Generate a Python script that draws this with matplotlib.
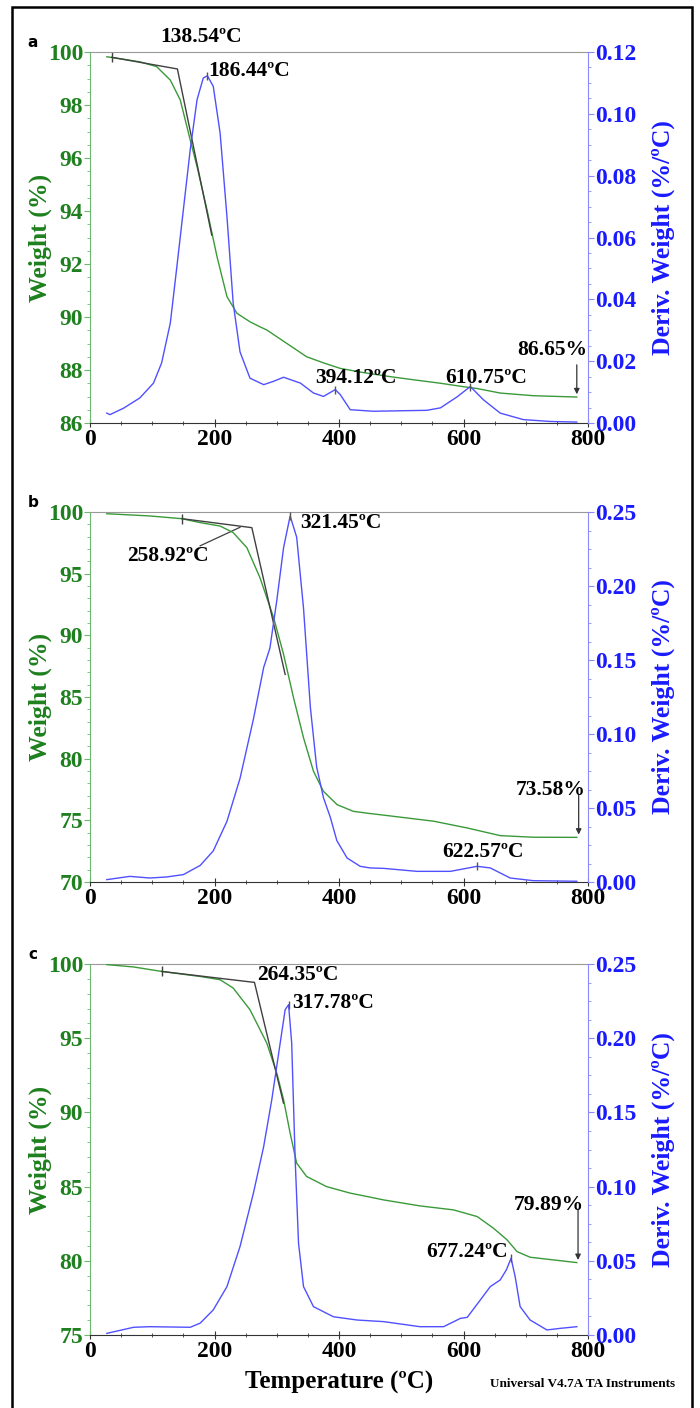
import numpy as np
import matplotlib
matplotlib.use("Agg")
import matplotlib.pyplot as plt
from matplotlib.ticker import AutoMinorLocator, FormatStrFormatter, MultipleLocator
from matplotlib.patches import Rectangle

plt.rcParams['font.family'] = ['Liberation Serif', 'DejaVu Serif']

GREEN = '#1e801e'
GREEN_LINE = '#3a9a3a'
BLUE = '#1a1aff'
BLUE_LINE = '#5050ff'
TAN = '#404040'

# ---- panel a ----
a_wt_T = [27, 50, 80, 107, 129, 145, 161, 172, 188, 204, 220, 236, 257, 273, 284, 310, 348, 375, 402, 440,
          482, 520, 563, 600, 622, 659, 712, 782]
a_wt = [99.82, 99.74, 99.63, 99.45, 98.94, 98.19, 96.68, 95.67, 94.04, 92.28, 90.77, 90.14, 89.82, 89.63,
        89.51, 89.1, 88.5, 88.27, 88.06, 87.9, 87.75, 87.63, 87.5, 87.37, 87.3, 87.13, 87.03, 86.98]
a_dtg_T = [27, 32, 54, 80, 102, 115, 129, 139, 150, 161, 172, 182, 188.6, 198, 209, 220, 230, 241, 257,
           279, 295, 311, 338, 359, 375, 394, 402, 418, 455, 541, 563, 590, 611, 632, 659, 696, 739, 782]
a_dtg = [0.0032, 0.0027, 0.0048, 0.0081, 0.0129, 0.0194, 0.0323, 0.0496, 0.069, 0.0884, 0.1046, 0.1116,
         0.1123, 0.1089, 0.0938, 0.0668, 0.0388, 0.023, 0.0145, 0.0124, 0.0135, 0.0148, 0.0129, 0.0097,
         0.0086, 0.0108, 0.0092, 0.0043, 0.0038, 0.0041, 0.0049, 0.0085, 0.0118, 0.0075, 0.0032, 0.0011,
         0.0005, 0.0003]
a_tan_T = [34.8, 140.4, 195.6]
a_tan_w = [99.8, 99.36, 93.09]
a_peaks = [188.6, 394, 611]

# ---- panel b ----
b_wt_T = [27, 96, 147, 177, 209, 230, 252, 273, 295, 311, 327, 343, 359, 375, 397, 423, 450, 472, 552,
          606, 659, 712, 782]
b_wt = [99.86, 99.68, 99.46, 99.14, 98.86, 98.33, 97.11, 94.68, 91.43, 88.45, 84.93, 81.69, 78.98, 77.35,
        76.27, 75.73, 75.55, 75.42, 74.93, 74.38, 73.76, 73.63, 73.62]
b_dtg_T = [27, 64, 96, 123, 150, 177, 198, 220, 241, 262.5, 279, 289, 300, 311, 321.5, 332, 343, 354, 364,
           375, 386, 396.5, 413, 434, 450, 472, 525, 579, 622, 643, 675, 712, 782]
b_dtg = [0.0016, 0.0038, 0.0027, 0.0034, 0.005, 0.0112, 0.021, 0.041, 0.07, 0.11, 0.145, 0.158, 0.19,
         0.226, 0.2473, 0.233, 0.185, 0.118, 0.078, 0.057, 0.0438, 0.028, 0.0162, 0.0106, 0.0095, 0.0092,
         0.0072, 0.0072, 0.0106, 0.0095, 0.0027, 0.0009, 0.0005]
b_tan_T = [147.5, 260, 313.5]
b_tan_w = [99.46, 98.73, 86.83]
b_peaks = [321.5, 622]

# ---- panel c ----
c_wt_T = [27, 70, 115, 155, 177, 209, 230, 257, 284, 300, 311, 321.5, 332, 348, 380, 418, 450, 472, 530,
          584, 622, 648, 670, 686, 707, 734, 782]
c_wt = [99.96, 99.8, 99.5, 99.28, 99.16, 98.94, 98.38, 96.92, 94.67, 92.65, 90.85, 88.6, 86.58, 85.68,
        85.0, 84.56, 84.29, 84.1, 83.7, 83.43, 82.98, 82.2, 81.41, 80.62, 80.24, 80.11, 79.88]
c_dtg_T = [27, 70, 96, 161, 177, 198, 220, 241, 262.5, 279, 292, 305.5, 313.5, 319, 324, 329.6, 335, 343,
           359, 391, 429, 472, 530, 568, 595, 606, 627, 643, 659, 669, 676.4, 683, 691, 707, 734, 756, 782]
c_dtg = [0.0011, 0.0052, 0.0056, 0.0052, 0.008, 0.0169, 0.0326, 0.0596, 0.0956, 0.127, 0.1585, 0.1967,
         0.2192, 0.2226, 0.1967, 0.118, 0.0618, 0.0326, 0.0191, 0.0123, 0.0101, 0.009, 0.0056, 0.0056,
         0.0112, 0.0119, 0.0236, 0.0326, 0.0371, 0.044, 0.0517, 0.0393, 0.0191, 0.0101, 0.0034, 0.0045,
         0.0056]
c_tan_T = [115, 264.2, 310.8]
c_tan_w = [99.5, 98.76, 90.63]
c_peaks = [319, 676.4]

fig = plt.figure(figsize=(7, 14.08), dpi=100)
fig.patches.append(Rectangle((12 / 700, -0.01), 680 / 700, 1 - 7 / 1408 + 0.01, transform=fig.transFigure,
                             fill=False, edgecolor='black', linewidth=1.8))


def make_panel(rect, wT, w, dT, d, tT, tw, peaks, wlim, wstep, wminor, dlim, dstep, letter):
    ax = fig.add_axes(rect)
    tx = ax.twinx()
    ax.plot(wT, w, color=GREEN_LINE, lw=1.0, zorder=3)
    ax.plot(tT, tw, color=TAN, lw=1.0, zorder=4)
    ax.plot(tT[:1], tw[:1], marker='|', color=TAN, ms=7, mew=1.0)
    tx.plot(dT, d, color=BLUE_LINE, lw=1.0)
    tx.plot(peaks, np.interp(peaks, dT, d), ls='none', marker='|', color='#555555', ms=6, mew=1.0)

    ax.set_xlim(0, 800)
    ax.set_ylim(*wlim)
    tx.set_ylim(*dlim)
    ax.xaxis.set_major_locator(MultipleLocator(200))
    ax.xaxis.set_minor_locator(AutoMinorLocator(4))
    ax.yaxis.set_major_locator(MultipleLocator(wstep))
    ax.yaxis.set_minor_locator(AutoMinorLocator(wminor))
    tx.yaxis.set_major_locator(MultipleLocator(dstep))
    tx.yaxis.set_minor_locator(AutoMinorLocator(4))
    tx.yaxis.set_major_formatter(FormatStrFormatter('%.2f'))

    ax.tick_params(axis='x', which='major', direction='inout', length=6, color='#333333',
                   labelsize=17, pad=1)
    ax.tick_params(axis='x', which='minor', direction='inout', length=3, color='#333333')
    ax.tick_params(axis='y', which='major', direction='out', length=4, color='#6fb86f',
                   labelsize=17, labelcolor=GREEN, pad=1)
    ax.tick_params(axis='y', which='minor', direction='out', length=2, color='#6fb86f')
    tx.tick_params(axis='y', which='major', direction='out', length=4, color='#8a8aff',
                   labelsize=17, labelcolor=BLUE, pad=1)
    tx.tick_params(axis='y', which='minor', direction='out', length=2, color='#8a8aff')
    for lab in ax.get_xticklabels() + ax.get_yticklabels() + tx.get_yticklabels():
        lab.set_fontweight('bold')

    ax.spines['left'].set_color('#6fb86f')
    ax.spines['bottom'].set_color('#333333')
    ax.spines['top'].set_color('#999999')
    ax.spines['right'].set_visible(False)
    tx.spines['right'].set_color('#8a8aff')
    for s in ['left', 'top', 'bottom']:
        tx.spines[s].set_visible(False)

    ax.set_ylabel('Weight (%)', color=GREEN, fontsize=18.5, fontweight='bold', labelpad=-3)
    tx.set_ylabel('Deriv. Weight (%/ºC)', color=BLUE, fontsize=18.5, fontweight='bold', labelpad=11)
    fig.text(33 / 700, rect[1] + rect[3] + 0.007, letter, family='DejaVu Sans', fontweight='bold',
             fontsize=11, ha='center', va='center')
    return ax, tx


def label(ax, x, y, s, ha='left'):
    ax.text(x, y, s, fontsize=15.5, fontweight='bold', ha=ha, va='center', clip_on=False, zorder=6)


def arrow(ax, x, y0, y1):
    ax.annotate('', xy=(x, y1), xytext=(x, y0),
                arrowprops=dict(arrowstyle='-|>', color='#333333', lw=0.9, mutation_scale=8))


# panel a
ax, tx = make_panel([90 / 700, 1 - 423 / 1408, 498 / 700, 371 / 1408], a_wt_T, a_wt, a_dtg_T, a_dtg,
                    a_tan_T, a_tan_w, a_peaks, (86, 100), 2, 4, (0, 0.12), 0.02, 'a')
label(ax, 178, 100.55, '138.54ºC', ha='center')
label(ax, 190, 99.3, '186.44ºC')
label(ax, 361, 87.7, '394.12ºC')
label(ax, 570, 87.7, '610.75ºC')
label(ax, 799, 88.75, '86.65%', ha='right')
arrow(ax, 782, 88.3, 86.98)

# panel b
ax, tx = make_panel([90 / 700, 1 - 882 / 1408, 498 / 700, 370 / 1408], b_wt_T, b_wt, b_dtg_T, b_dtg,
                    b_tan_T, b_tan_w, b_peaks, (70, 100), 5, 5, (0, 0.25), 0.05, 'b')
label(ax, 337, 99.08, '321.45ºC')
label(ax, 126, 96.4, '258.92ºC', ha='center')
ax.plot([177, 241], [97.26, 98.76], color=TAN, lw=0.9)
label(ax, 796, 77.5, '73.58%', ha='right')
arrow(ax, 785, 77.25, 73.62)
label(ax, 632, 72.45, '622.57ºC', ha='center')

# panel c
ax, tx = make_panel([90 / 700, 1 - 1335 / 1408, 498 / 700, 371 / 1408], c_wt_T, c_wt, c_dtg_T, c_dtg,
                    c_tan_T, c_tan_w, c_peaks, (75, 100), 5, 5, (0, 0.25), 0.05, 'c')
label(ax, 269, 99.28, '264.35ºC')
label(ax, 324, 97.39, '317.78ºC')
label(ax, 672, 80.62, '677.24ºC', ha='right')
label(ax, 794, 83.78, '79.89%', ha='right')
arrow(ax, 784, 83.6, 79.87)
ax.set_xlabel('Temperature (ºC)', fontsize=18, fontweight='bold', labelpad=7)
fig.text(583 / 700, 1 - 1384 / 1408, 'Universal V4.7A TA Instruments', fontsize=9.5, fontweight='bold',
         ha='center', va='center')

fig.savefig('out.png', dpi=100)
